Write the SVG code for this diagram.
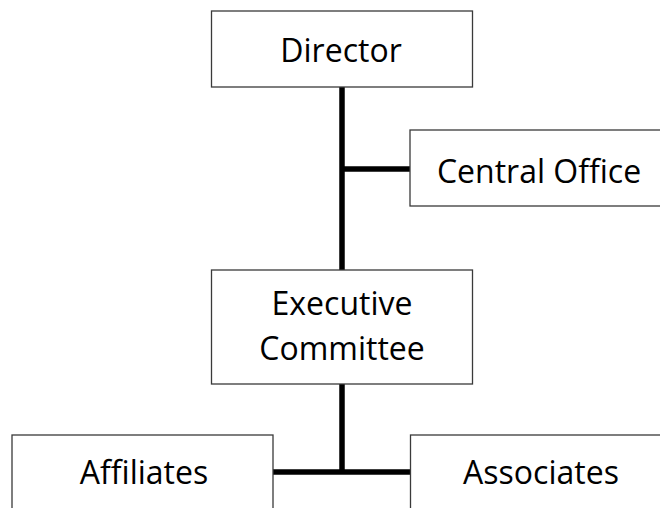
<svg xmlns="http://www.w3.org/2000/svg" width="660" height="508" viewBox="0 0 660 508">
  <style>
    .box { fill: #ffffff; stroke: #3a3a3a; stroke-width: 1.3; }
    .label { font-family: "Open Sans", "Liberation Sans", sans-serif; font-size: 32px; fill: #000000; text-anchor: middle; }
    .link { stroke: #000000; stroke-width: 5.5; fill: none; }
  </style>
  <rect width="660" height="508" fill="#ffffff"/>
  <g id="connectors">
    <line class="link" x1="342" y1="87" x2="342" y2="270"/>
    <line class="link" x1="342" y1="169" x2="410" y2="169"/>
    <line class="link" x1="342" y1="384" x2="342" y2="472"/>
    <line class="link" x1="273" y1="472" x2="411" y2="472"/>
  </g>
  <g id="director">
    <rect class="box" x="211.5" y="11" width="261" height="76"/>
    <text class="label" x="341" y="62">Director</text>
  </g>
  <g id="central-office">
    <rect class="box" x="410" y="130" width="262" height="76"/>
    <text class="label" x="539" y="183">Central Office</text>
  </g>
  <g id="executive-committee">
    <rect class="box" x="211.5" y="270" width="261" height="114"/>
    <text class="label" x="342" y="315">Executive</text>
    <text class="label" x="342" y="360">Committee</text>
  </g>
  <g id="affiliates">
    <rect class="box" x="12" y="435" width="261" height="80"/>
    <text class="label" x="144" y="484">Affiliates</text>
  </g>
  <g id="associates">
    <rect class="box" x="410.5" y="435" width="262" height="80"/>
    <text class="label" x="541" y="484">Associates</text>
  </g>
</svg>
